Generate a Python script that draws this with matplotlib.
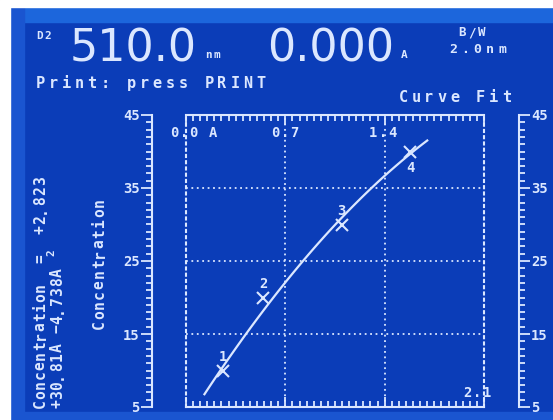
import numpy as np
import matplotlib.pyplot as plt
from matplotlib.patches import Rectangle
from matplotlib.ticker import MultipleLocator

# data
std_abs = [0.263, 0.545, 1.097, 1.579]
std_conc = [9.9, 20.0, 29.9, 40.0]
std_labels = ['1', '2', '3', '4']
fit_coef = [2.823, 30.81, -4.738]   # c0 + c1*A + c2*A^2
fit_range = [0.13, 1.70]
x_ticks = [0.0, 0.7, 1.4, 2.1]
y_ticks = [5, 15, 25, 35, 45]

BG = '#0b3db8'
FG = '#dbe7ff'
MONO = 'DejaVu Sans Mono'

W, H = 553, 420
fig = plt.figure(figsize=(W / 100, H / 100), dpi=100, facecolor=BG)

# background in pixel coordinates (photo edges + bezel)
bg = fig.add_axes([0, 0, 1, 1], zorder=-5)
bg.set_xlim(0, W)
bg.set_ylim(H, 0)
bg.axis('off')
bg.add_patch(Rectangle((0, 0), W, H, color=BG))
bg.add_patch(Rectangle((10, 7), W, 15, color='#1c66dc'))
bg.add_patch(Rectangle((10, 7), 14, H, color='#1a55d0'))
bg.add_patch(Rectangle((10, 412), W, 8, color='#1a55d0'))
bg.add_patch(Rectangle((0, 0), W, 7, color='white'))
bg.add_patch(Rectangle((0, 0), 10, H, color='white'))


def mono(x, y, s, pitch, size=9, rot=0):
    # fixed-pitch screen text, one glyph at a time (pixel coords, x/y = glyph centre)
    half = size * 0.36
    for i, ch in enumerate(s):
        if ch == ' ':
            continue
        if rot:
            bg.text(x + half, y - i * pitch, ch, color=FG, fontsize=size, family=MONO, weight='bold',
                    rotation=90, rotation_mode='anchor', ha='center', va='baseline')
        else:
            bg.text(x + i * pitch, y + half, ch, color=FG, fontsize=size, family=MONO, weight='bold',
                    ha='center', va='baseline')


# header
mono(40, 36, 'D2', 8, 8)
bg.text(70, 61, '510.0', color=FG, fontsize=32, family='DejaVu Sans', va='baseline')
mono(208, 55, 'nm', 8.5, 8)
bg.text(267, 61, '0.000', color=FG, fontsize=32, family='DejaVu Sans', va='baseline')
mono(404, 55, 'A', 8, 8)
mono(462, 33, 'B/W', 10, 9)
mono(453, 50, '2.0nm', 12.3, 9.5)
mono(40, 84, 'Print: press PRINT', 13.0, 11)
mono(403, 98, 'Curve Fit', 12.9, 11)

# main plot box
top, bot = 115, 407
ax = fig.add_axes([186 / W, 1 - bot / H, (484 - 186) / W, (bot - top) / H])
ax.set_facecolor('none')
ax.set_xlim(x_ticks[0], x_ticks[-1])
ax.set_ylim(y_ticks[0], y_ticks[-1])
for s in ['left', 'right']:
    ax.spines[s].set_linestyle((0, (1, 2)))
for s in ax.spines.values():
    s.set_color(FG)
    s.set_linewidth(1.5)
ax.xaxis.set_major_locator(MultipleLocator(0.7))
ax.xaxis.set_minor_locator(MultipleLocator(0.05))
ax.tick_params(axis='x', which='both', direction='in', top=True, bottom=True,
               labelbottom=False, color=FG, width=1.3)
ax.tick_params(axis='x', which='major', length=7)
ax.tick_params(axis='x', which='minor', length=4)
ax.tick_params(axis='y', left=False, right=False, labelleft=False)
ax.set_yticks(y_ticks)
for xv in x_ticks[1:-1]:
    ax.axvline(xv, color=FG, lw=1.3, ls=(0, (1, 2)))
for yv in y_ticks[1:-1]:
    ax.axhline(yv, color=FG, lw=1.3, ls=(0, (1, 2)))

xa = np.linspace(fit_range[0], fit_range[1], 100)
ax.plot(xa, fit_coef[0] + fit_coef[1] * xa + fit_coef[2] * xa ** 2, color=FG, lw=1.6)
ax.plot(std_abs, std_conc, 'x', color=FG, ms=8, mew=1.5)
for xv, yv, lb in zip(std_abs, std_conc, std_labels):
    dy = -2.2 if lb == '4' else 1.9
    ax.text(xv, yv + dy, lb, color=FG, fontsize=10, family=MONO, weight='bold', ha='center', va='center')

# axis value labels inside the box
mono(174, 133, '0.0 A', 9.8, 10)
mono(275, 133, '0.7', 9.8, 10)
mono(373, 133, '1.4', 9.8, 10)
mono(467, 393, '2.1', 9.8, 10)


def side_axis(xpix, side):
    a = fig.add_axes([xpix / W, 1 - bot / H, 0.001, (bot - top) / H])
    a.set_facecolor('none')
    a.set_ylim(y_ticks[0], y_ticks[-1])
    a.set_xticks([])
    for s in a.spines.values():
        s.set_visible(False)
    a.spines[side].set_visible(True)
    a.spines[side].set_color(FG)
    a.spines[side].set_linewidth(1.5)
    a.set_yticks(y_ticks)
    a.yaxis.set_minor_locator(MultipleLocator(1))
    a.yaxis.set_ticks_position(side)
    a.tick_params(axis='y', which='both', direction='out', color=FG, width=1.3,
                  labelcolor=FG, labelsize=10, pad=1)
    a.tick_params(axis='y', which='major', length=8)
    a.tick_params(axis='y', which='minor', length=4)
    for t in a.get_yticklabels():
        t.set_family(MONO)
        t.set_weight('bold')
    return a


side_axis(152, 'left')
side_axis(518, 'right')

mono(100, 325, 'Concentration', 10.2, 10.5, rot=90)
mono(41, 404, 'Concentration  =  +2.823', 9.7, 10.5, rot=90)
mono(58, 404, '+30.81A \u22124.738A', 9.4, 10.5, rot=90)
bg.text(51, 253, '2', color=FG, fontsize=8, family=MONO, weight='bold', rotation=90,
        ha='center', va='center')

fig.savefig('out.png', dpi=100, facecolor=BG)
